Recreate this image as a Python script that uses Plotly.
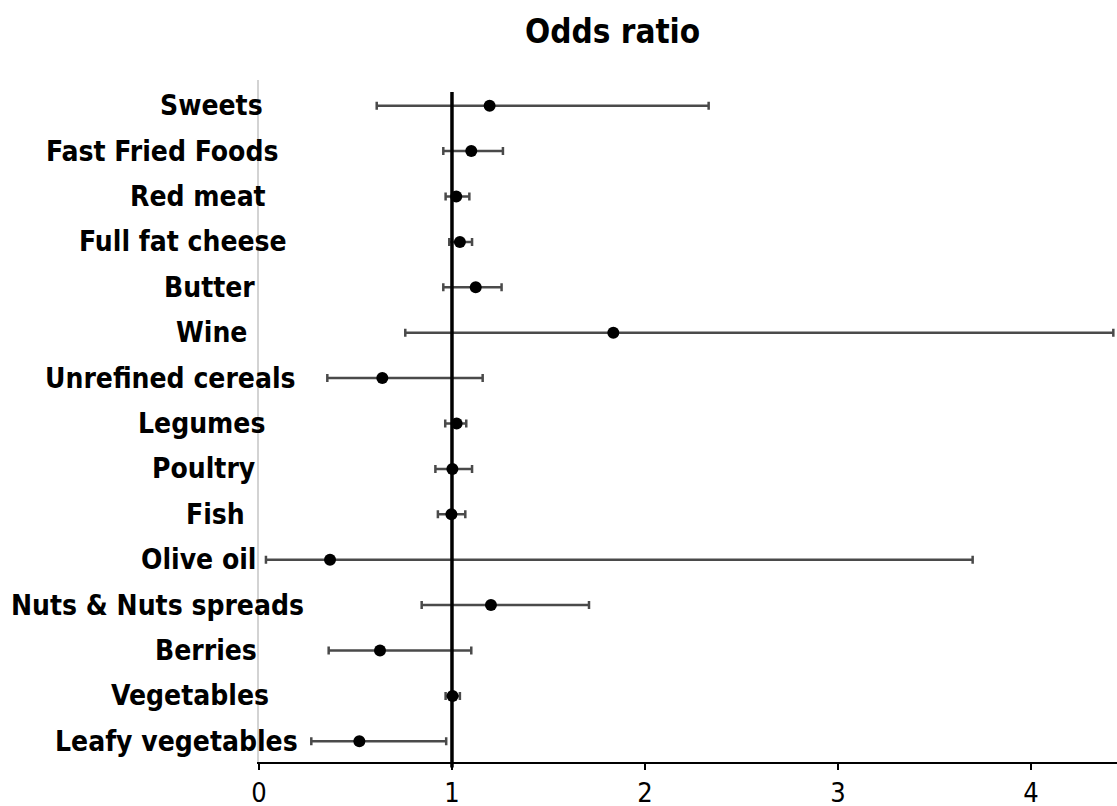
import plotly.graph_objects as go

# ---- data ----
foods = ["Sweets", "Fast Fried Foods", "Red meat", "Full fat cheese", "Butter",
         "Wine", "Unrefined cereals", "Legumes", "Poultry", "Fish",
         "Olive oil", "Nuts & Nuts spreads", "Berries", "Vegetables", "Leafy vegetables"]
odds_ratio = [1.195, 1.10, 1.022, 1.041, 1.123, 1.836, 0.639, 1.024, 1.002, 0.997,
              0.368, 1.202, 0.627, 1.003, 0.520]
ci_low = [0.610, 0.955, 0.967, 0.986, 0.955, 0.758, 0.354, 0.965, 0.914, 0.927,
          0.036, 0.843, 0.361, 0.967, 0.271]
ci_high = [2.330, 1.264, 1.090, 1.104, 1.257, 4.427, 1.159, 1.074, 1.104, 1.069,
           3.698, 1.710, 1.100, 1.041, 0.970]
x_ticks = [0, 1, 2, 3, 4]
reference_value = 1

# ---- styling ----
label_right_px = [265, 280, 268, 289, 257, 249, 298, 267, 257, 247, 259, 306, 259, 271, 300]
W, H = 1117, 806
PLOT_LEFT = 259          # pixel of x = 0
PLOT_TOP = 80
PLOT_BOTTOM = 762
FONT = "DejaVu Sans Condensed, DejaVu Sans, sans-serif"

PLOT_H = PLOT_BOTTOM - PLOT_TOP
PLOT_W = W - PLOT_LEFT

err_plus = [h - p for h, p in zip(ci_high, odds_ratio)]
err_minus = [p - l for p, l in zip(odds_ratio, ci_low)]

fig = go.Figure()
fig.add_trace(go.Scatter(
    x=odds_ratio, y=foods, mode="markers",
    marker=dict(color="black", size=12),
    error_x=dict(type="data", symmetric=False, array=err_plus, arrayminus=err_minus,
                 color="#4a4a4a", thickness=2.5, width=4),
    showlegend=False, cliponaxis=False,
))

# reference line at OR = 1
fig.add_shape(type="line", xref="x", yref="paper", x0=reference_value, x1=reference_value,
              y0=-0.008, y1=(PLOT_BOTTOM - 92) / PLOT_H, line=dict(color="black", width=3.5),
              layer="above")

for name, rp in zip(foods, label_right_px):
    fig.add_annotation(xref="paper", yref="y", x=0, y=name, xanchor="right", yanchor="middle",
                       xshift=rp - PLOT_LEFT, showarrow=False, text=name,
                       font=dict(family=FONT, size=28, color="black", weight="bold"))

fig.add_annotation(xref="paper", yref="paper", x=(612 - PLOT_LEFT) / PLOT_W,
                   y=(PLOT_BOTTOM - 31) / PLOT_H,
                   xanchor="center", yanchor="middle", showarrow=False, text="Odds ratio",
                   font=dict(family=FONT, size=33, color="black", weight="bold"))

fig.update_layout(
    width=W, height=H,
    margin=dict(l=PLOT_LEFT, r=0, t=PLOT_TOP, b=H - PLOT_BOTTOM, autoexpand=False),
    paper_bgcolor="white", plot_bgcolor="white",
    xaxis=dict(range=[0, 4.446], tickvals=x_ticks, ticktext=[str(t) for t in x_ticks],
               showgrid=False, zeroline=False, showline=True, linecolor="black", linewidth=1.5,
               ticks="outside", ticklen=6, tickwidth=1.5, tickcolor="black",
               tickfont=dict(family=FONT, size=27, color="black")),
    yaxis=dict(type="category", categoryorder="array", categoryarray=foods[::-1],
               range=[-0.456, 14.566], showgrid=False, zeroline=False,
               showline=True, linecolor="#d3d3d3", linewidth=1.5,
               showticklabels=False, ticks=""),
)

fig.write_html("out.html", config={"displayModeBar": False},
               post_script="document.body.style.margin='0px';document.body.style.overflow='hidden';")
